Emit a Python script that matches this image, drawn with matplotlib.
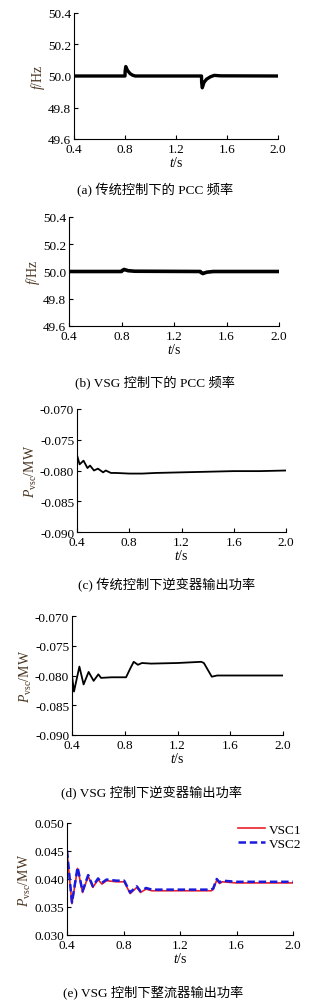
import numpy as np
import matplotlib.pyplot as plt

plt.rcParams['font.family'] = ['Liberation Serif', 'Noto Sans CJK SC']
plt.rcParams['mathtext.fontset'] = 'custom'
plt.rcParams['mathtext.rm'] = 'Liberation Serif'
plt.rcParams['mathtext.it'] = 'Liberation Serif:italic'
plt.rcParams['font.size'] = 9

W, H = 325, 1003

# (a) conventional control, PCC frequency
ta = [0.4, 0.8, 0.801, 0.806, 0.82, 0.84, 0.86, 0.88, 1.4, 1.401, 1.406, 1.42, 1.44, 1.47, 1.5, 1.55, 2.0]
fa = [50.0, 50.0, 50.03, 50.06, 50.035, 50.015, 50.005, 50.0, 50.0, 49.96, 49.925, 49.96, 49.98, 49.995, 50.004, 50.001, 50.0]

# (b) VSG control, PCC frequency
tb = [0.4, 0.8, 0.81, 0.82, 0.85, 0.9, 1.4, 1.41, 1.42, 1.45, 1.5, 2.0]
fb = [50.0, 50.0, 50.01, 50.015, 50.006, 50.002, 50.0, 49.99, 49.985, 49.995, 50.0, 50.0]

# (c) conventional control, inverter power
tc = [0.4, 0.42, 0.45, 0.48, 0.5, 0.53, 0.56, 0.6, 0.62, 0.66, 0.7, 0.8, 0.9, 1.0, 1.2, 1.4, 1.6, 1.8, 2.0]
pc = [-0.0775, -0.0790, -0.0784, -0.0796, -0.0792, -0.0800, -0.0797, -0.0803, -0.0800, -0.0804, -0.0804,
      -0.0805, -0.0805, -0.0804, -0.0803, -0.0802, -0.0801, -0.0801, -0.0800]

# (d) VSG control, inverter power
td = [0.4, 0.415, 0.456, 0.488, 0.526, 0.564, 0.6, 0.62, 0.7, 0.81, 0.84, 0.868, 0.9, 0.93, 1.0, 1.2,
      1.38, 1.40, 1.46, 1.5, 1.7, 2.0]
pd_ = [-0.0800, -0.0827, -0.0785, -0.0815, -0.0794, -0.0809, -0.0798, -0.0804, -0.0803, -0.0803, -0.0789,
       -0.0777, -0.0782, -0.0779, -0.0780, -0.0779, -0.0777, -0.0779, -0.0802, -0.0800, -0.0800, -0.0800]

# (e) VSG control, rectifier power
te = [0.4, 0.435, 0.475, 0.51, 0.55, 0.583, 0.62, 0.647, 0.68, 0.75, 0.805, 0.847, 0.894, 0.92, 0.96,
      1.0, 1.2, 1.42, 1.435, 1.46, 1.48, 1.5, 1.6, 2.0]
vsc2 = [0.0451, 0.0358, 0.0421, 0.0378, 0.0407, 0.0387, 0.0401, 0.0393, 0.0399, 0.0397, 0.0397, 0.0376,
        0.0387, 0.0378, 0.0384, 0.0381, 0.0381, 0.0381, 0.0383, 0.0400, 0.0394, 0.0397, 0.0395, 0.0395]
vsc1 = [v - 0.0002 for v in vsc2]

xticks = [0.4, 0.8, 1.2, 1.6, 2.0]
fig = plt.figure(figsize=(W / 100, H / 100), dpi=100)


def make_ax(l, r, t, b):
    ax = fig.add_axes([l / W, 1 - b / H, (r - l) / W, (b - t) / H])
    ax.spines['top'].set_visible(False)
    ax.spines['right'].set_visible(False)
    ax.tick_params(direction='in', length=3, width=0.8, pad=2, labelsize=9.5)
    ax.tick_params(axis='x', pad=3)
    ax.set_xlim(0.4, 2.0)
    ax.set_xticks(xticks)
    ax.set_xticklabels(['%.1f' % v for v in xticks])
    ax.set_xlabel(r'$\mathit{t}$/s', labelpad=0, fontsize=10)
    return ax


lab_col = '#4a3520'

ax = make_ax(74, 278, 14, 140)
ax.plot(ta, fa, color='k', lw=2.4)
ax.set_ylim(49.6, 50.4)
ax.set_yticks([49.6, 49.8, 50.0, 50.2, 50.4])
ax.set_yticklabels(['%.1f' % v for v in [49.6, 49.8, 50.0, 50.2, 50.4]])
ax.set_ylabel(r'$\mathit{f}$/Hz', color=lab_col, labelpad=1, fontsize=10)

ax = make_ax(69, 279, 218, 327)
ax.plot(tb, fb, color='k', lw=2.6)
ax.set_ylim(49.6, 50.4)
ax.set_yticks([49.6, 49.8, 50.0, 50.2, 50.4])
ax.set_yticklabels(['%.1f' % v for v in [49.6, 49.8, 50.0, 50.2, 50.4]])
ax.set_ylabel(r'$\mathit{f}$/Hz', color=lab_col, labelpad=1, fontsize=10)

pticks = [-0.090, -0.085, -0.080, -0.075, -0.070]
ax = make_ax(77, 286, 410, 533)
ax.plot(tc, pc, color='k', lw=1.3)
ax.set_ylim(-0.090, -0.070)
ax.set_yticks(pticks)
ax.set_yticklabels(['%.3f' % v for v in pticks])
ax.set_ylabel(r'$\mathit{P}_{\rm vsc}$/MW', color=lab_col, labelpad=1, fontsize=10)

ax = make_ax(72, 283, 617, 736)
ax.plot(td, pd_, color='k', lw=1.3)
ax.set_ylim(-0.090, -0.070)
ax.set_yticks(pticks)
ax.set_yticklabels(['%.3f' % v for v in pticks])
ax.set_ylabel(r'$\mathit{P}_{\rm vsc}$/MW', color=lab_col, labelpad=1, fontsize=10)

eticks = [0.030, 0.035, 0.040, 0.045, 0.050]
ax = make_ax(67, 293, 824, 936)
ax.plot(te, vsc1, color='#e8202a', lw=1.2, label='VSC1')
ax.plot(te, vsc2, color='#1a1adc', lw=1.8, ls=(0, (3, 1.5)), label='VSC2')
ax.set_ylim(0.030, 0.050)
ax.set_yticks(eticks)
ax.set_yticklabels(['%.3f' % v for v in eticks])
ax.set_ylabel(r'$\mathit{P}_{\rm vsc}$/MW', color=lab_col, labelpad=1, fontsize=10)
ax.legend(loc='upper right', bbox_to_anchor=(1.06, 1.04), frameon=False, fontsize=9.5,
          handlelength=2.0, handletextpad=0.3, labelspacing=0.1, borderaxespad=0)

captions = ['(a) 传统控制下的 PCC 频率', '(b) VSG 控制下的 PCC 频率', '(c) 传统控制下逆变器输出功率',
            '(d) VSG 控制下逆变器输出功率', '(e) VSG 控制下整流器输出功率']
cap_y = [190, 382, 585, 793, 992]
cap_x = [155, 155, 167, 152, 153]
for s, y, x in zip(captions, cap_y, cap_x):
    fig.text(x / W, 1 - y / H, s, ha='center', va='center', fontsize=9.5)

plt.savefig('out.png', dpi=100)
